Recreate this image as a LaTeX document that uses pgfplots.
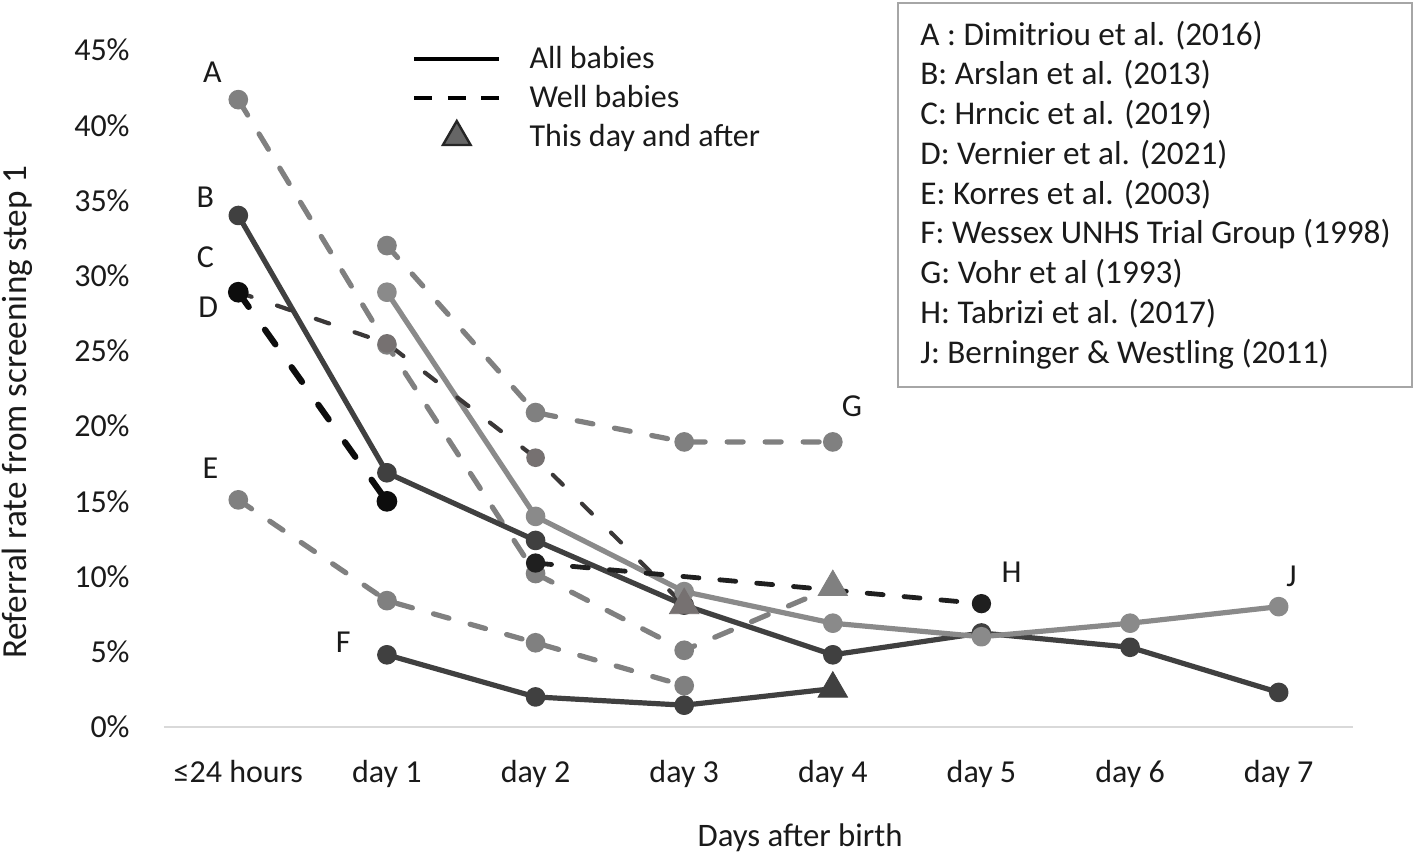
\documentclass[border=0pt]{standalone}
\usepackage{fontspec}
\setmainfont{Carlito}
\usepackage{pgfplots}
\pgfplotsset{compat=1.18}
\usepackage{pgfplotstable}

\definecolor{cgrey}{HTML}{808080}
\definecolor{cjgrey}{HTML}{8A8A8A}
\definecolor{cdark}{HTML}{404040}
\definecolor{cc}{HTML}{3B3838}
\definecolor{ccm}{HTML}{767171}
\definecolor{cblack}{HTML}{0D0D0D}
\definecolor{ch}{HTML}{1F1F1F}
\definecolor{txt}{HTML}{1A1A1A}
\definecolor{boxc}{HTML}{A6A6A6}

\newcommand{\ff}{\fontsize{16}{19}\selectfont}
\newcommand{\fl}{\fontsize{16.4}{19}\selectfont}
\newcommand{\fy}{\fontsize{17.6}{20}\selectfont}

% A: Dimitriou et al. (2016), well babies, last point = this day and after
\pgfplotstableread{
x y
0 41.7
1 25.4
2 10.2
3 5.1
4 9.3
}\dataA
% B: Arslan et al. (2013), all babies
\pgfplotstableread{
x y
0 34.0
1 16.9
2 12.4
3 8.1
4 4.8
5 6.25
6 5.3
7 2.3
}\dataB
% C: Hrncic et al. (2019), well babies
\pgfplotstableread{
x y
0 28.9
1 25.5
2 17.9
3 8.1
}\dataC
% D: Vernier et al. (2021), well babies
\pgfplotstableread{
x y
0 28.9
1 15.0
}\dataD
% E: Korres et al. (2003), well babies
\pgfplotstableread{
x y
0 15.1
1 8.4
2 5.6
3 2.75
}\dataE
% F: Wessex UNHS Trial Group (1998), all babies
\pgfplotstableread{
x y
1 4.8
2 2.0
3 1.45
4 2.55
}\dataF
% G: Vohr et al (1993), well babies
\pgfplotstableread{
x y
1 32.0
2 20.9
3 18.95
4 18.95
}\dataG
% H: Tabrizi et al. (2017), well babies
\pgfplotstableread{
x y
2 10.9
5 8.2
}\dataH
% J: Berninger & Westling (2011), all babies
\pgfplotstableread{
x y
1 28.9
2 14.0
3 9.0
4 6.9
5 6.0
6 6.9
7 8.0
}\dataJ

\begin{document}
\begin{tikzpicture}
\useasboundingbox (-82pt,-68.5pt) rectangle (626pt,363.5pt);
\begin{axis}[
  at={(0pt,0pt)}, anchor=south west,
  scale only axis, width=594.5pt, height=338.5pt,
  xmin=-0.5, xmax=7.5, ymin=0, ymax=45,
  xtick={0,1,2,3,4,5,6,7},
  xticklabels={≤24 hours, day 1, day 2, day 3, day 4, day 5, day 6, day 7},
  ytick={0,5,10,15,20,25,30,35,40,45},
  yticklabel={\pgfmathprintnumber{\tick}\%},
  /pgf/number format/assume math mode=true,
  axis line style={draw=none},
  tick style={draw=none}, major tick length=0pt,
  ticklabel style={font=\ff, text=txt},
  yticklabel style={anchor=east, inner sep=0pt, xshift=-17pt},
  xticklabel style={anchor=base, inner sep=0pt, yshift=-27.5pt},
  xlabel={Days after birth},
  xlabel style={at={(axis description cs:0.535,-0.164)}, anchor=center, font=\fl, text=txt},
  ylabel={Referral rate from screening step 1},
  ylabel style={at={(axis description cs:-0.1235,0.465)}, anchor=center, font=\fy, text=txt},
  clip=false,
  legend style={draw=none, fill=none, at={(axis description cs:0.2086,1.0118)}, anchor=north west,
    inner sep=0pt, outer sep=0pt, font=\ff, text=txt, column sep=14pt, row sep=2.5pt,
    nodes={inner sep=0pt, text height=13pt, text depth=4pt}},
  legend cell align=left,
  legend image code/.code={\draw[mark repeat=2, mark phase=2, #1] plot coordinates {(0pt,0pt) (21.25pt,0pt) (42.5pt,0pt)};},
]
\draw[black!15, line width=1pt] (rel axis cs:0,0) -- (rel axis cs:1,0);

\addlegendimage{black, line width=2.25pt}
\addlegendentry{All babies}
\addlegendimage{black, line width=2.25pt, dash pattern=on 9pt off 7.75pt}
\addlegendentry{Well babies}
\addlegendimage{only marks, mark=triangle*, mark size=8pt, mark options={fill=black!60, draw=black!85, line width=1.2pt}}
\addlegendentry{This day and after}

% E
\addplot[forget plot, cgrey, line width=2.6pt, line cap=round, dash pattern=on 8pt off 11pt,
  mark=*, mark size=3.6pt, mark options={solid}] table {\dataE};
% G
\addplot[forget plot, cgrey, line width=2.6pt, line cap=round, dash pattern=on 8pt off 11pt,
  mark=*, mark size=3.6pt, mark options={solid}] table {\dataG};
% A
\addplot[forget plot, cgrey, line width=2.6pt, line cap=round, dash pattern=on 9pt off 11pt,
  mark=*, mark size=3.6pt, mark options={solid}, mark indices={1,2,3,4}] table {\dataA};
\addplot[forget plot, only marks, cgrey, mark=triangle*, mark size=8.5pt, mark indices={5}] table {\dataA};
% B
\addplot[forget plot, cdark, line width=2.6pt, line join=round,
  mark=*, mark size=3.6pt] table {\dataB};
% F
\addplot[forget plot, cdark, line width=2.6pt, line join=round,
  mark=*, mark size=3.6pt, mark indices={1,2,3}] table {\dataF};
\addplot[forget plot, only marks, cdark, mark=triangle*, mark size=8.5pt, mark indices={4}] table {\dataF};
% J
\addplot[forget plot, cjgrey, line width=2.6pt, line join=round,
  mark=*, mark size=3.6pt] table {\dataJ};
% C
\addplot[forget plot, cc, line width=2.1pt, line cap=round, dash pattern=on 7pt off 13.5pt,
  mark=*, mark size=3.6pt, mark options={solid, ccm}, mark indices={1,2,3}] table {\dataC};
\addplot[forget plot, only marks, ccm, mark=triangle*, mark size=8.5pt, mark indices={4}] table {\dataC};
% D
\addplot[forget plot, cblack, line width=3.1pt, line cap=round, dash pattern=on 9pt off 14pt,
  mark=*, mark size=3.6pt, mark options={solid}] table {\dataD};
% H
\addplot[forget plot, ch, line width=2.4pt, line cap=round, dash pattern=on 8pt off 10.5pt,
  mark=*, mark size=3.6pt, mark options={solid}] table {\dataH};

% series letters
\node[font=\ff, text=txt] at (axis cs:-0.175,43.55) {A};
\node[font=\ff, text=txt] at (axis cs:-0.222,35.2) {B};
\node[font=\ff, text=txt] at (axis cs:-0.222,31.2) {C};
\node[font=\ff, text=txt] at (axis cs:-0.202,27.9) {D};
\node[font=\ff, text=txt] at (axis cs:-0.188,17.2) {E};
\node[font=\ff, text=txt] at (axis cs:0.706,5.65) {F};
\node[font=\ff, text=txt] at (axis cs:4.128,21.3) {G};
\node[font=\ff, text=txt] at (axis cs:5.203,10.3) {H};
\node[font=\ff, text=txt] at (axis cs:7.086,10.0) {J};
\end{axis}

% reference box
\draw[boxc, line width=1pt] (367pt,362pt) rectangle (624pt,170pt);
\begin{scope}[every node/.style={font=\fontsize{16.6}{19}\selectfont, text=txt, anchor=base west, inner sep=0pt}]
\node at (378pt,341pt) {A : Dimitriou et al. (2016)};
\node at (378pt,321.125pt) {B: Arslan et al. (2013)};
\node at (378pt,301.25pt) {C: Hrncic et al. (2019)};
\node at (378pt,281.375pt) {D: Vernier et al. (2021)};
\node at (378pt,261.5pt) {E: Korres et al. (2003)};
\node at (378pt,241.625pt) {F: Wessex UNHS Trial Group (1998)};
\node at (378pt,221.75pt) {G: Vohr et al (1993)};
\node at (378pt,201.875pt) {H: Tabrizi et al. (2017)};
\node at (378pt,182pt) {J: Berninger \& Westling (2011)};
\end{scope}
\end{tikzpicture}
\end{document}
